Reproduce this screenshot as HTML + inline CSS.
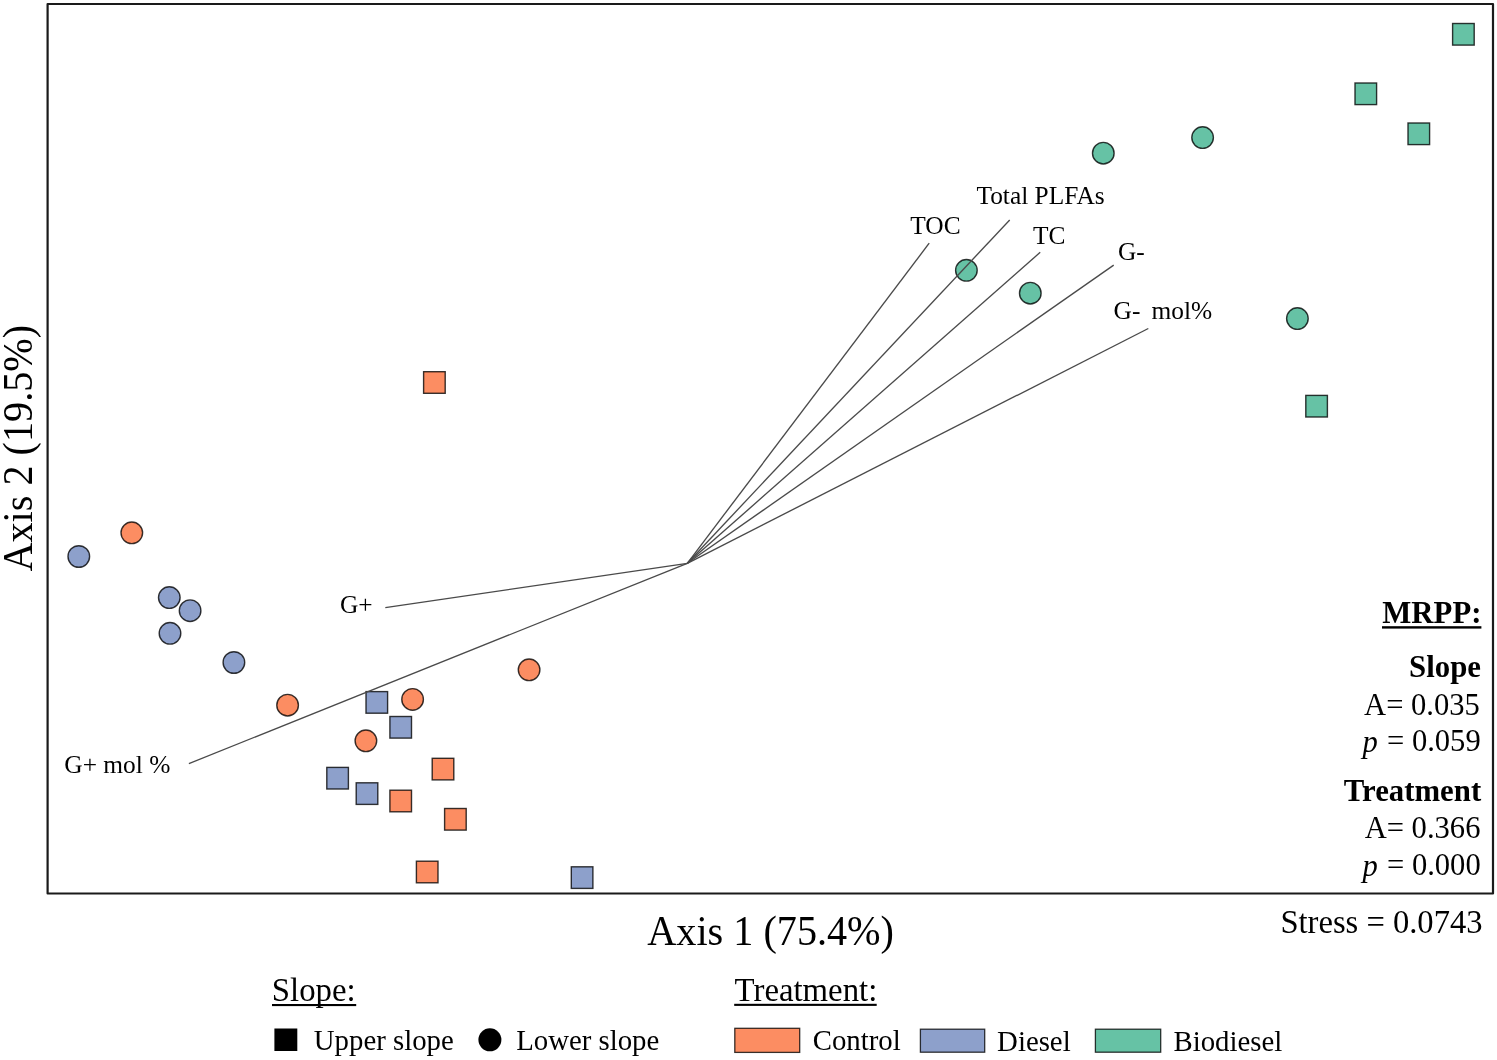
<!DOCTYPE html><html><head><meta charset="utf-8"><style>html,body{margin:0;padding:0;background:#fff;width:1497px;height:1060px;overflow:hidden}svg{display:block;will-change:transform}text{font-family:"Liberation Serif", serif;fill:#000}</style></head><body>
<svg width="1497" height="1060" viewBox="0 0 1497 1060">
<rect x="423.6" y="371.7" width="21.6" height="21.6" fill="#fc8d62" stroke="#000" stroke-opacity="0.78" stroke-width="1.4"/>
<rect x="432.2" y="758.3" width="21.6" height="21.6" fill="#fc8d62" stroke="#000" stroke-opacity="0.78" stroke-width="1.4"/>
<rect x="389.9" y="790.2" width="21.6" height="21.6" fill="#fc8d62" stroke="#000" stroke-opacity="0.78" stroke-width="1.4"/>
<rect x="444.6" y="808.5" width="21.6" height="21.6" fill="#fc8d62" stroke="#000" stroke-opacity="0.78" stroke-width="1.4"/>
<rect x="416.4" y="861.2" width="21.6" height="21.6" fill="#fc8d62" stroke="#000" stroke-opacity="0.78" stroke-width="1.4"/>
<rect x="366.0" y="691.6" width="21.6" height="21.6" fill="#8da0cb" stroke="#000" stroke-opacity="0.78" stroke-width="1.4"/>
<rect x="389.9" y="716.5" width="21.6" height="21.6" fill="#8da0cb" stroke="#000" stroke-opacity="0.78" stroke-width="1.4"/>
<rect x="326.8" y="767.4" width="21.6" height="21.6" fill="#8da0cb" stroke="#000" stroke-opacity="0.78" stroke-width="1.4"/>
<rect x="356.2" y="782.8" width="21.6" height="21.6" fill="#8da0cb" stroke="#000" stroke-opacity="0.78" stroke-width="1.4"/>
<rect x="571.3" y="866.8" width="21.6" height="21.6" fill="#8da0cb" stroke="#000" stroke-opacity="0.78" stroke-width="1.4"/>
<rect x="1452.6" y="23.5" width="21.6" height="21.6" fill="#66c2a5" stroke="#000" stroke-opacity="0.78" stroke-width="1.4"/>
<rect x="1355.0" y="83.0" width="21.6" height="21.6" fill="#66c2a5" stroke="#000" stroke-opacity="0.78" stroke-width="1.4"/>
<rect x="1408.0" y="123.0" width="21.6" height="21.6" fill="#66c2a5" stroke="#000" stroke-opacity="0.78" stroke-width="1.4"/>
<rect x="1305.8" y="395.4" width="21.6" height="21.6" fill="#66c2a5" stroke="#000" stroke-opacity="0.78" stroke-width="1.4"/>
<circle cx="131.8" cy="532.8" r="10.8" fill="#fc8d62" stroke="#000" stroke-opacity="0.78" stroke-width="1.4"/>
<circle cx="287.6" cy="705.2" r="10.8" fill="#fc8d62" stroke="#000" stroke-opacity="0.78" stroke-width="1.4"/>
<circle cx="529.1" cy="669.8" r="10.8" fill="#fc8d62" stroke="#000" stroke-opacity="0.78" stroke-width="1.4"/>
<circle cx="412.6" cy="699.4" r="10.8" fill="#fc8d62" stroke="#000" stroke-opacity="0.78" stroke-width="1.4"/>
<circle cx="365.9" cy="740.8" r="10.8" fill="#fc8d62" stroke="#000" stroke-opacity="0.78" stroke-width="1.4"/>
<circle cx="78.8" cy="556.5" r="10.8" fill="#8da0cb" stroke="#000" stroke-opacity="0.78" stroke-width="1.4"/>
<circle cx="169.3" cy="597.6" r="10.8" fill="#8da0cb" stroke="#000" stroke-opacity="0.78" stroke-width="1.4"/>
<circle cx="190.1" cy="610.7" r="10.8" fill="#8da0cb" stroke="#000" stroke-opacity="0.78" stroke-width="1.4"/>
<circle cx="170.0" cy="633.3" r="10.8" fill="#8da0cb" stroke="#000" stroke-opacity="0.78" stroke-width="1.4"/>
<circle cx="233.9" cy="662.5" r="10.8" fill="#8da0cb" stroke="#000" stroke-opacity="0.78" stroke-width="1.4"/>
<circle cx="1103.3" cy="153.2" r="10.8" fill="#66c2a5" stroke="#000" stroke-opacity="0.78" stroke-width="1.4"/>
<circle cx="1202.6" cy="137.6" r="10.8" fill="#66c2a5" stroke="#000" stroke-opacity="0.78" stroke-width="1.4"/>
<circle cx="966.4" cy="270.3" r="10.8" fill="#66c2a5" stroke="#000" stroke-opacity="0.78" stroke-width="1.4"/>
<circle cx="1030.3" cy="293.2" r="10.8" fill="#66c2a5" stroke="#000" stroke-opacity="0.78" stroke-width="1.4"/>
<circle cx="1297.4" cy="318.6" r="10.8" fill="#66c2a5" stroke="#000" stroke-opacity="0.78" stroke-width="1.4"/>
<line x1="687.3" y1="563.3" x2="929.2" y2="243.2" stroke="#4a4a4a" stroke-width="1.35"/>
<line x1="687.3" y1="563.3" x2="1009.7" y2="220" stroke="#4a4a4a" stroke-width="1.35"/>
<line x1="687.3" y1="563.3" x2="1040.2" y2="252.3" stroke="#4a4a4a" stroke-width="1.35"/>
<line x1="687.3" y1="563.3" x2="1113.7" y2="265.1" stroke="#4a4a4a" stroke-width="1.35"/>
<line x1="687.3" y1="563.3" x2="1148.3" y2="328.5" stroke="#4a4a4a" stroke-width="1.35"/>
<line x1="687.3" y1="563.3" x2="385.3" y2="607.6" stroke="#4a4a4a" stroke-width="1.35"/>
<line x1="687.3" y1="563.3" x2="188.9" y2="763.6" stroke="#4a4a4a" stroke-width="1.35"/>
<rect x="47.6" y="4" width="1445.4" height="889.5" fill="none" stroke="#1a1a1a" stroke-width="2.2" stroke-linejoin="round"/>
<text transform="translate(976.40 203.9) scale(1 1.02)" font-size="25.4" font-weight="normal" xml:space="preserve">Total PLFAs</text>
<text transform="translate(910.30 234) scale(1 1.02)" font-size="25.4" font-weight="normal" xml:space="preserve">TOC</text>
<text transform="translate(1033.00 244) scale(1 1.02)" font-size="25.4" font-weight="normal" xml:space="preserve">TC</text>
<text transform="translate(1117.90 260.3) scale(1 1.02)" font-size="25.4" font-weight="normal" xml:space="preserve">G-</text>
<text transform="translate(1113.60 318.8) scale(1 1.02)" font-size="25.4" font-weight="normal" xml:space="preserve">G-</text>
<text transform="translate(1151.60 318.8) scale(1 1.02)" font-size="25.4" font-weight="normal" xml:space="preserve">mol%</text>
<text transform="translate(339.90 613.2) scale(1 1.02)" font-size="25.4" font-weight="normal" xml:space="preserve">G+</text>
<text transform="translate(64.35 773.3) scale(1 1.02)" font-size="25.4" font-weight="normal" xml:space="preserve">G+ mol %</text>
<text transform="translate(1382.30 622.9) scale(1 1.02)" font-size="30.8" font-weight="bold" xml:space="preserve">MRPP:</text>
<rect x="1382" y="626.2" width="99.4" height="2.4" fill="#000"/>
<text transform="translate(1480.97 676.6) scale(1 1.02)" font-size="30.8" font-weight="bold" text-anchor="end" xml:space="preserve">Slope</text>
<text transform="translate(1479.84 714.8) scale(1 1.04)" font-size="30.6" font-weight="normal" text-anchor="end" xml:space="preserve">A= 0.035</text>
<text transform="translate(1481.17 800.5) scale(1 1.02)" font-size="30.8" font-weight="bold" text-anchor="end" xml:space="preserve">Treatment</text>
<text transform="translate(1480.44 838) scale(1 1.04)" font-size="30.6" font-weight="normal" text-anchor="end" xml:space="preserve">A= 0.366</text>
<text transform="translate(0 751) scale(1 1.04)" font-size="30.6" xml:space="preserve"><tspan font-style="italic" x="1362.46" y="1.2">p</tspan><tspan x="1379.36" y="0"> = 0.059</tspan></text>
<text transform="translate(0 874.8) scale(1 1.04)" font-size="30.6" xml:space="preserve"><tspan font-style="italic" x="1362.46" y="1.2">p</tspan><tspan x="1379.36" y="0"> = 0.000</tspan></text>
<text transform="translate(1482.52 933.2) scale(1 1.05)" font-size="32.6" font-weight="normal" text-anchor="end" xml:space="preserve">Stress = 0.0743</text>
<text transform="translate(647.30 945.2) scale(1 1.05)" font-size="40.2" font-weight="normal" xml:space="preserve">Axis 1 (75.4%)</text>
<text x="0" y="0" font-size="40.2" transform="translate(31.7 571.50) rotate(-90) scale(1 1.05)" xml:space="preserve">Axis 2 (19.5%)</text>
<text transform="translate(271.80 1000.8) scale(1 1.04)" font-size="32.8" font-weight="normal" xml:space="preserve">Slope:</text>
<rect x="272" y="1004" width="84.2" height="2.1" fill="#000"/>
<rect x="274.4" y="1028.5" width="22.9" height="22.5" fill="#000"/>
<text transform="translate(313.80 1049.6) scale(1 1.05)" font-size="28.8" font-weight="normal" xml:space="preserve">Upper slope</text>
<circle cx="489.9" cy="1039.8" r="11.5" fill="#000"/>
<text transform="translate(516.20 1049.6) scale(1 1.05)" font-size="28.8" font-weight="normal" xml:space="preserve">Lower slope</text>
<text transform="translate(734.60 1000.8) scale(1 1.04)" font-size="32.8" font-weight="normal" xml:space="preserve">Treatment:</text>
<rect x="734.2" y="1003.8" width="142.5" height="2.1" fill="#000"/>
<rect x="734.8" y="1028.3" width="64.9" height="24.1" fill="#fc8d62" stroke="#000" stroke-opacity="0.78" stroke-width="1.3"/>
<text transform="translate(812.70 1050.3) scale(1 1.05)" font-size="28.8" font-weight="normal" xml:space="preserve">Control</text>
<rect x="920.4" y="1029.2" width="64.3" height="23.0" fill="#8da0cb" stroke="#000" stroke-opacity="0.78" stroke-width="1.3"/>
<text transform="translate(997.10 1050.6) scale(1 1.05)" font-size="28.8" font-weight="normal" xml:space="preserve">Diesel</text>
<rect x="1095.4" y="1029.2" width="65.3" height="23.0" fill="#66c2a5" stroke="#000" stroke-opacity="0.78" stroke-width="1.3"/>
<text transform="translate(1173.50 1050.6) scale(1 1.05)" font-size="28.8" font-weight="normal" xml:space="preserve">Biodiesel</text>
</svg></body></html>
